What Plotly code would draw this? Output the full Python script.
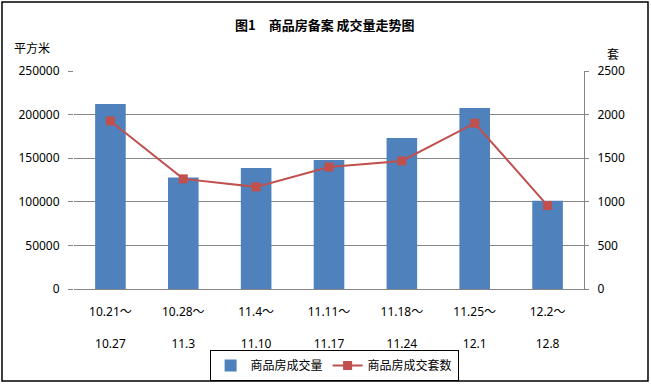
import plotly.graph_objects as go

week_start = ["10.21～", "10.28～", "11.4～", "11.11～", "11.18～", "11.25～", "12.2～"]
week_end = ["10.27", "11.3", "11.10", "11.17", "11.24", "12.1", "12.8"]
area_sqm = [212200, 127800, 138900, 147900, 173200, 207600, 101100]
units = [1927, 1263, 1171, 1399, 1468, 1901, 957]

cats = [f"{s}<br><br>{e}" for s, e in zip(week_start, week_end)]

FONT = "Noto Sans, Noto Sans CJK SC, sans-serif"
CJK = "Noto Sans CJK SC, sans-serif"

fig = go.Figure()
fig.add_trace(go.Bar(
    x=cats, y=area_sqm, name="商品房成交量",
    marker=dict(color="#4F81BD", line=dict(width=0)),
    yaxis="y",
))
fig.add_trace(go.Scatter(
    x=cats, y=units, name="商品房成交套数", mode="lines+markers",
    line=dict(color="#C0504D", width=2),
    marker=dict(symbol="square", size=9, color="#C0504D"),
    yaxis="y2",
))

L, R, T, B = 74, 67, 71, 95
W, H = 651, 384
pw, ph = W - L - R, H - T - B

def px(x):
    return (x - L) / pw

def py(y):
    return (H - B - y) / ph

fig.update_layout(
    width=W, height=H,
    margin=dict(l=L, r=R, t=T, b=B, pad=0, autoexpand=False),
    paper_bgcolor="white", plot_bgcolor="white",
    font=dict(family=FONT, size=12, color="#000000"),
    bargap=0.58,
    showlegend=True,
    legend=dict(
        orientation="h", x=0.51, xanchor="center", y=py(350), yanchor="top",
        bordercolor="#000000", borderwidth=1, bgcolor="white",
        font=dict(family=CJK, size=12), itemwidth=30, tracegroupgap=0,
        entrywidthmode="pixels",
    ),
    xaxis=dict(
        type="category", showgrid=False, showline=True, linecolor="#868686",
        linewidth=1, ticks="", tickfont=dict(size=12), tickangle=0,
        zeroline=False, automargin=False, ticklabelstandoff=12,
    ),
    yaxis=dict(
        range=[0, 250000], dtick=50000, tickformat="d", showgrid=True,
        gridcolor="#868686", gridwidth=1, showline=False, ticks="outside",
        ticklen=5, tickcolor="#868686", tickfont=dict(size=12), zeroline=False,
        ticklabelstandoff=6, automargin=False,
    ),
    yaxis2=dict(
        range=[0, 2500], dtick=500, tickformat="d", overlaying="y",
        side="right", showgrid=False, showline=True, linecolor="#868686",
        linewidth=1, ticks="outside", ticklen=4, tickcolor="#868686",
        tickfont=dict(size=12), zeroline=False, ticklabelstandoff=6,
        automargin=False,
    ),
    annotations=[
        dict(text="<b>图1　商品房备案 成交量走势图</b>", x=px(325), y=py(24),
             xref="paper", yref="paper", showarrow=False,
             font=dict(family=CJK, size=13), xanchor="center", yanchor="middle"),
        dict(text="平方米", x=px(12), y=py(47), xref="paper", yref="paper",
             showarrow=False, font=dict(family=CJK, size=12),
             xanchor="left", yanchor="middle"),
        dict(text="套", x=px(613), y=py(53), xref="paper", yref="paper",
             showarrow=False, font=dict(family=CJK, size=12),
             xanchor="center", yanchor="middle"),
    ],
    shapes=[
        dict(type="rect", xref="paper", yref="paper",
             x0=px(2), x1=px(648), y0=py(2), y1=py(381),
             line=dict(color="#000000", width=1.5), fillcolor="rgba(0,0,0,0)",
             layer="below"),
    ],
)

fig.write_html("out.html")
